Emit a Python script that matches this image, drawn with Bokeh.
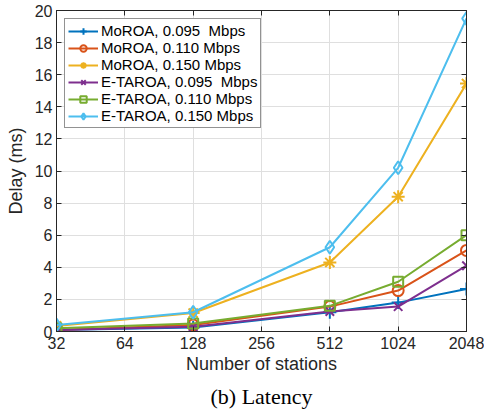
from bokeh.plotting import figure
from bokeh.models import FixedTicker, LinearAxis, LogAxis, Title, Legend, CustomLabelingPolicy
from bokeh.embed import file_html
from bokeh.resources import INLINE

stations = [32, 128, 512, 1024, 2048]
x_ticks = [32, 64, 128, 256, 512, 1024, 2048]
y_ticks = [0, 2, 4, 6, 8, 10, 12, 14, 16, 18, 20]

moroa_095 = [0.10, 0.25, 1.20, 1.80, 2.65]
moroa_110 = [0.10, 0.40, 1.55, 2.55, 5.05]
moroa_150 = [0.35, 1.15, 4.30, 8.40, 15.45]
etaroa_095 = [0.10, 0.30, 1.25, 1.55, 4.10]
etaroa_110 = [0.20, 0.50, 1.60, 3.10, 6.00]
etaroa_150 = [0.40, 1.20, 5.25, 10.20, 19.50]

labels = ["MoROA, 0.095\u00a0 Mbps", "MoROA, 0.110 Mbps", "MoROA, 0.150 Mbps",
          "E-TAROA, 0.095\u00a0 Mbps", "E-TAROA, 0.110 Mbps", "E-TAROA, 0.150 Mbps"]
series = [moroa_095, moroa_110, moroa_150, etaroa_095, etaroa_110, etaroa_150]
colors = ["#0072BD", "#D95319", "#EDB120", "#7E2F8E", "#77AC30", "#4DBEEE"]
markers = ["cross", "circle", "asterisk", "x", "square", "diamond"]
sizes = [13, 11, 13, 12, 10, 13]

FONT = "Liberation Sans"
AX = "#262626"

p = figure(frame_width=410, frame_height=321, x_axis_type="log", x_range=(32, 2048), y_range=(0, 20),
           output_backend="svg", toolbar_location=None,
           min_border_left=56, min_border_right=18, min_border_top=10, min_border_bottom=79)
p.outline_line_color = AX
p.outline_line_width = 1

ticker_x = FixedTicker(ticks=x_ticks, minor_ticks=[])
ticker_y = FixedTicker(ticks=y_ticks, minor_ticks=[])

xa = p.xaxis[0]
xa.ticker = ticker_x
xa.major_label_overrides = {t: str(t) for t in x_ticks}
xa.axis_label = "Number of stations"
ya = p.yaxis[0]
ya.ticker = ticker_y
ya.axis_label = "Delay (ms)"

for ax in [xa, ya]:
    ax.major_tick_in = 5
    ax.major_tick_out = 0
    ax.minor_tick_line_color = None
    ax.axis_line_color = AX
    ax.major_tick_line_color = AX
    ax.major_label_text_font = FONT
    ax.major_label_text_font_size = "16px"
    ax.major_label_text_color = AX
    ax.axis_label_text_font = FONT
    ax.axis_label_text_font_size = "18px"
    ax.axis_label_text_font_style = "normal"
    ax.axis_label_text_color = AX
xa.major_label_standoff = 5
xa.axis_label_standoff = 2
ya.major_label_standoff = 4
ya.axis_label_standoff = 6

no_labels = "const a = [...indices]; for (const i of a) indices.unset(i); return indices"
top = LogAxis(ticker=ticker_x, major_tick_in=5, major_tick_out=0,
              major_label_policy=CustomLabelingPolicy(code=no_labels),
              major_label_text_font_size="0px",
              major_label_standoff=0, axis_line_color=AX, major_tick_line_color=AX,
              minor_tick_line_color=None)
right = LinearAxis(ticker=ticker_y, major_tick_in=5, major_tick_out=0,
                   major_label_policy=CustomLabelingPolicy(code=no_labels),
                   major_label_text_font_size="0px",
                   major_label_standoff=0, axis_line_color=AX, major_tick_line_color=AX,
                   minor_tick_line_color=None)
p.add_layout(top, "above")
p.add_layout(right, "right")

p.xgrid.grid_line_color = "#dfdfdf"
p.ygrid.grid_line_color = "#dfdfdf"
p.xgrid.ticker = ticker_x
p.ygrid.ticker = ticker_y

items = []
for lab, ys, c, m, s in zip(labels, series, colors, markers, sizes):
    r1 = p.line(stations, ys, line_color=c, line_width=2)
    r2 = p.scatter(stations, ys, marker=m, size=s, line_color=c, fill_color=None, line_width=2)
    items.append((lab, [r1, r2]))

legend = Legend(items=items, location="top_left")
legend.margin = 8
legend.padding = 3
legend.spacing = 0
legend.glyph_width = 30
legend.glyph_height = 16
legend.label_height = 16
legend.label_standoff = 3
legend.label_text_font = FONT
legend.label_text_font_size = "15px"
legend.label_text_color = "#000000"
legend.border_line_color = AX
legend.border_line_width = 1
legend.background_fill_alpha = 1
p.add_layout(legend)

cap = Title(text="(b) Latency", align="center", text_font="Liberation Serif",
            text_font_size="22px", text_font_style="normal", text_color="#000000")
p.add_layout(cap, "below")

open("out.html", "w").write(file_html(p, INLINE))
